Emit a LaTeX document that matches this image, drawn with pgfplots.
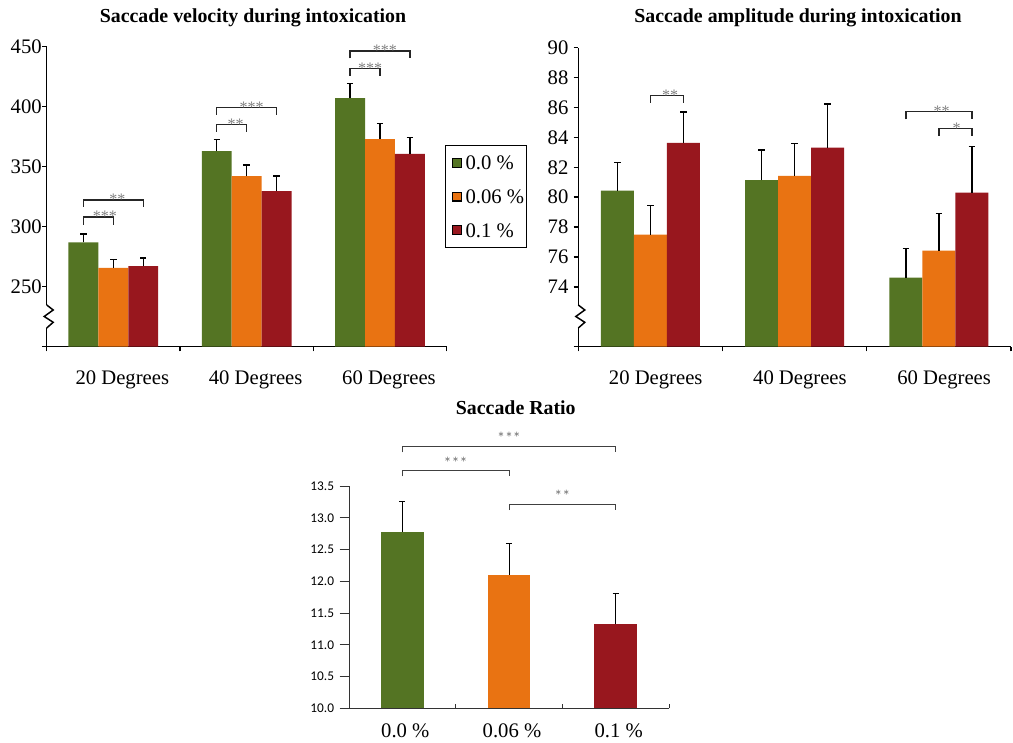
\documentclass[border=0pt]{standalone}
\usepackage{fontspec}
\setmainfont{Liberation Serif}
\newfontfamily\carlito{Carlito}
\usepackage{pgfplots}
\pgfplotsset{compat=1.18}

\definecolor{cG}{HTML}{547423}
\definecolor{cO}{HTML}{E97312}
\definecolor{cR}{HTML}{98171E}

\newcommand\lab{\fontsize{15.5}{18}\selectfont}
\newcommand\ttl{\bfseries\fontsize{14.9}{17}\selectfont}

\pgfplotsset{
  ebar/.style={error bars/.cd, y dir=plus, y explicit,
    error bar style={line width=1.1pt, black},
    error mark options={rotate=90, mark size=2.4pt, line width=1.1pt, black},
    /pgfplots/.cd},
  ebarthin/.style={error bars/.cd, y dir=plus, y explicit,
    error bar style={line width=0.75pt, black},
    error mark options={rotate=90, mark size=2.3pt, line width=0.75pt, black},
    /pgfplots/.cd},
  sq/.style={legend image code/.code={
    \path (0pt,0pt);
    \draw[##1, draw=black, line width=0.9pt] (3.5pt,-3.3pt) rectangle (10.25pt,3.3pt);}},
  top/.style={scale only axis, anchor=south west, ybar, clip=false,
    axis x line=bottom, axis y line=left,
    axis line style={-, line width=1.1pt},
    tick style={black, line width=1.1pt},
    tick align=outside, major tick length=3.5pt,
    xmin=-0.5, xmax=2.5, xtick={-0.5,0.5,1.5,2.5},
    xticklabels={20 Degrees,40 Degrees,60 Degrees},
    x tick label as interval,
    xticklabel style={font=\lab, inner sep=0pt, anchor=north, yshift=-14pt},
    yticklabel style={font=\lab, inner sep=0pt, anchor=east},
  },
}

% significance bracket: x1, x2, y of bar, y of ends, x of stars, stars
\newcommand\brk[6]{%
  \draw[line width=1.1pt, black!85] (axis cs:#1,#4) -- (axis cs:#1,#3) -- (axis cs:#2,#3) -- (axis cs:#2,#4);
  \node[text=black!50, font=\fontsize{12}{13}\selectfont, anchor=base, yshift=-3.6pt] at (axis cs:#5,#3) {#6};}
% bracket of the ratio chart: x1, x2, y of bar, y of ends, stars
\newcommand\brkb[5]{%
  \draw[line width=0.7pt, black!75] (axis cs:#1,#4) -- (axis cs:#1,#3) -- (axis cs:#2,#3) -- (axis cs:#2,#4);
  \node[text=black!55, font=\carlito\fontsize{12}{13}\selectfont, anchor=base, yshift=2pt] at (axis cs:#1/2+#2/2,#3) {#5};}

\begin{document}
\begin{tikzpicture}
\path[use as bounding box] (0pt,0pt) rectangle (759.75pt,556.5pt);

% ---- saccade velocity
\begin{axis}[top, at={(35pt,296.5pt)}, width=300pt, height=225pt,
  bar width=0.2244,
  xticklabel style={xshift=6.75pt},
  ymin=200, ymax=450, ytick={200,250,300,350,400,450},
  yticklabels={,250,300,350,400,450},
  legend cell align=left,
  legend style={at={(0.996,0.672)}, anchor=north west, draw=black, line width=0.9pt,
    font=\lab, inner xsep=1.5pt, inner ysep=7.6pt, row sep=14.8pt, column sep=2.75pt,
    nodes={inner sep=0pt, text height=10.5pt, text depth=0pt}}]
\addplot[fill=cG, draw=none, bar shift=-0.2244, sq, ebar] coordinates {
  (0,287.0) +- (0,7.0) (1,363.0) +- (0,9.8) (2,407.2) +- (0,12.3)};
\addlegendentry{0.0 \%}
\addplot[fill=cO, draw=none, bar shift=0, sq, ebar] coordinates {
  (0,265.6) +- (0,7.2) (1,342.2) +- (0,9.2) (2,373.0) +- (0,13.1)};
\addlegendentry{0.06 \%}
\addplot[fill=cR, draw=none, bar shift=0.2244, sq, ebar] coordinates {
  (0,267.2) +- (0,6.8) (1,329.7) +- (0,12.5) (2,360.6) +- (0,13.9)};
\addlegendentry{0.1 \%}
\brk{-0.2244}{0}{308.1}{301.4}{-0.063}{***}
\brk{-0.2244}{0.2244}{322.3}{316.4}{0.031}{**}
\brk{0.7756}{1}{385.3}{379.2}{0.918}{**}
\brk{0.7756}{1.2244}{399.2}{393.1}{1.037}{***}
\brk{1.7756}{2}{432.0}{425.6}{1.925}{***}
\brk{1.7756}{2.2244}{446.4}{440.3}{2.037}{***}
\end{axis}

% ---- saccade amplitude
\begin{axis}[top, at={(433.7pt,296.5pt)}, width=324.5pt, height=224.25pt,
  bar width=0.229,
  xticklabel style={xshift=4pt},
  ymin=70, ymax=90, ytick={70,74,76,78,80,82,84,86,88,90},
  yticklabels={,74,76,78,80,82,84,86,88,90},
  yticklabel style={xshift=-3.75pt}]
\addplot[fill=cG, draw=none, bar shift=-0.229, ebar] coordinates {
  (0,80.43) +- (0,1.89) (1,81.14) +- (0,2.00) (2,74.62) +- (0,1.94)};
\addplot[fill=cO, draw=none, bar shift=0, ebar] coordinates {
  (0,77.49) +- (0,1.94) (1,81.43) +- (0,2.16) (2,76.42) +- (0,2.47)};
\addplot[fill=cR, draw=none, bar shift=0.229, ebar] coordinates {
  (0,83.63) +- (0,2.07) (1,83.32) +- (0,2.92) (2,80.30) +- (0,3.09)};
\brk{0}{0.229}{86.79}{86.32}{0.136}{**}
\brk{1.771}{2.229}{85.72}{85.21}{2.02}{**}
\brk{2}{2.229}{84.61}{84.10}{2.124}{*}
\end{axis}

% ---- saccade ratio
\begin{axis}[scale only axis, anchor=south west, at={(261.75pt,25.3pt)},
  width=240pt, height=166.7pt, ybar, bar width=0.403, clip=false,
  axis x line=bottom, axis y line=left,
  axis line style={-, line width=0.7pt, black!80},
  tick style={black!80, line width=0.7pt},
  tick align=outside, major tick length=7pt,
  xmin=-0.5, xmax=2.5, ymin=10, ymax=13.5,
  ytick={10,10.5,11,11.5,12,12.5,13,13.5},
  xtick={-0.5,0.5,1.5,2.5}, xticklabels={0.0 \%,0.06 \%,0.1 \%},
  x tick label as interval, xtick style={draw=none},
  xticklabel style={font=\lab, inner sep=0pt, anchor=north, yshift=-4.4pt, xshift=2.25pt},
  yticklabel style={font=\carlito\fontsize{10}{12}\selectfont, inner sep=0pt, anchor=east,
    xshift=-4pt,
    /pgf/number format/.cd, fixed, fixed zerofill, precision=1, assume math mode=true}]
\addplot[fill=cG, draw=none, bar shift=0, ebarthin] coordinates {(0,12.78) +- (0,0.48)};
\addplot[fill=cO, draw=none, bar shift=0, ebarthin] coordinates {(1,12.10) +- (0,0.50)};
\addplot[fill=cR, draw=none, bar shift=0, ebarthin] coordinates {(2,11.33) +- (0,0.47)};
\draw[black!80, line width=0.7pt]
  (axis cs:0.5,10) -- ([yshift=3.3pt]axis cs:0.5,10)
  (axis cs:1.5,10) -- ([yshift=3.3pt]axis cs:1.5,10)
  (axis cs:2.5,10) -- ([yshift=3.3pt]axis cs:2.5,10);
\brkb{0}{2}{14.12}{14.03}{***}
\brkb{0}{1}{13.74}{13.65}{***}
\brkb{1}{2}{13.21}{13.12}{**}
\end{axis}

% titles and axis breaks, in pixel units of the reference
\begin{scope}[x=0.75pt, y=-0.75pt, shift={(0pt,556.5pt)}]
\node[font=\ttl, anchor=base] at (253,22.5) {Saccade velocity during intoxication};
\node[font=\ttl, anchor=base] at (798,22.5) {Saccade amplitude during intoxication};
\node[font=\ttl, anchor=base] at (515.8,415) {Saccade Ratio};
\foreach \ax in {46.7,578.3}{
  \fill[white] (\ax-2.5,305) rectangle (\ax+2.5,328);
  \draw[line width=1.1pt, black] (\ax,305) -- (\ax+6.5,310) -- (\ax-2.5,316.5)
    -- (\ax+6.5,322.3) -- (\ax,328);
}
\end{scope}
\end{tikzpicture}
\end{document}
